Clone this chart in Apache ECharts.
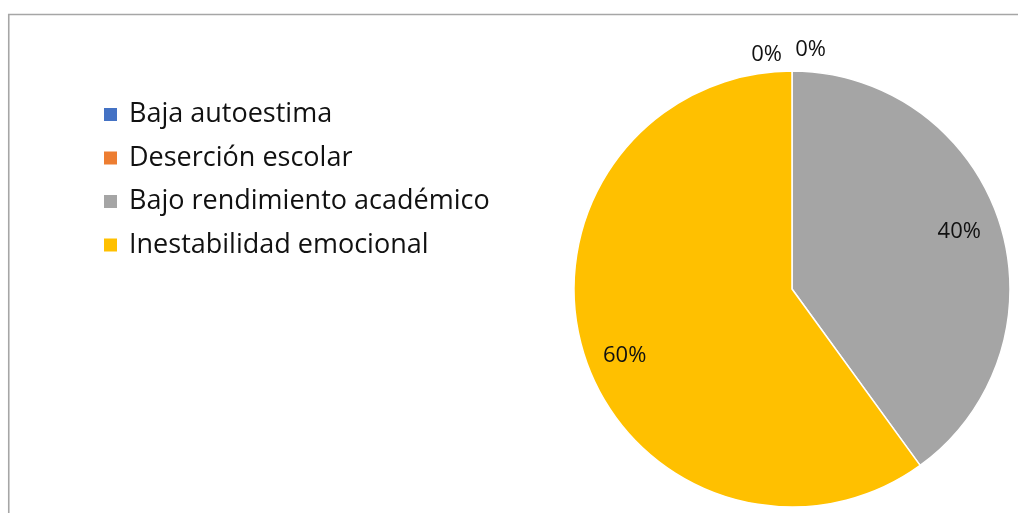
<!DOCTYPE html>
<html>
<head>
<meta charset="utf-8">
<script src="https://cdn.jsdelivr.net/npm/echarts@6/dist/echarts.min.js"></script>
<style>
html,body{margin:0;padding:0;background:#fff;}
#c{width:1018px;height:513px;}
</style>
</head>
<body>
<div id="c"></div>
<script>
const categories = ['Baja autoestima', 'Deserción escolar', 'Bajo rendimiento académico', 'Inestabilidad emocional'];
const values = [0, 0, 40, 60];
const colors = ['#4472C4', '#ED7D31', '#A5A5A5', '#FFC000'];

const FONT = '"Open Sans", sans-serif';
const labelOffsets = [[-5, -12], [39, -17], [-2, -2], [2, 12]];

const chart = echarts.init(document.getElementById('c'));
const mainData = categories.map((n, i) => ({ name: n, value: values[i], itemStyle: { color: colors[i] } }));
const labelData = categories.map((n, i) => {
  const d = { name: n, value: values[i], label: { offset: labelOffsets[i] } };
  if (values[i] === 0) d.label.position = 'outside';
  return d;
});

chart.setOption({
  animation: false,
  backgroundColor: '#fff',
  graphic: [{
    type: 'rect', silent: true,
    shape: { x: 8.75, y: 14.5, width: 1200, height: 700 },
    style: { fill: 'none', stroke: '#A6A6A6', lineWidth: 1.6 }
  }],
  legend: {
    orient: 'vertical', left: 97, top: 96,
    icon: 'rect', itemWidth: 15, itemHeight: 15, itemGap: 16.5,
    data: categories,
    textStyle: { fontFamily: FONT, fontSize: 27, color: '#111', padding: [0, 0, 0, 6] }
  },
  series: [{
    type: 'pie', center: [792, 289], radius: [0, 218],
    startAngle: 90, clockwise: true, minAngle: 0,
    avoidLabelOverlap: false, silent: true,
    itemStyle: { borderColor: '#fff', borderWidth: 1.5 },
    label: { show: false }, labelLine: { show: false },
    data: mainData
  }, {
    type: 'pie', center: [792, 289], radius: [132, 218],
    startAngle: 90, clockwise: true,
    avoidLabelOverlap: false, silent: true,
    itemStyle: { color: 'rgba(0,0,0,0)', borderWidth: 0 },
    label: {
      show: true, position: 'inside', formatter: '{d}%',
      fontFamily: FONT, fontSize: 22, color: '#111'
    },
    labelLine: { show: false, length: 4, length2: 0 },
    data: labelData
  }]
});
</script>
</body>
</html>
